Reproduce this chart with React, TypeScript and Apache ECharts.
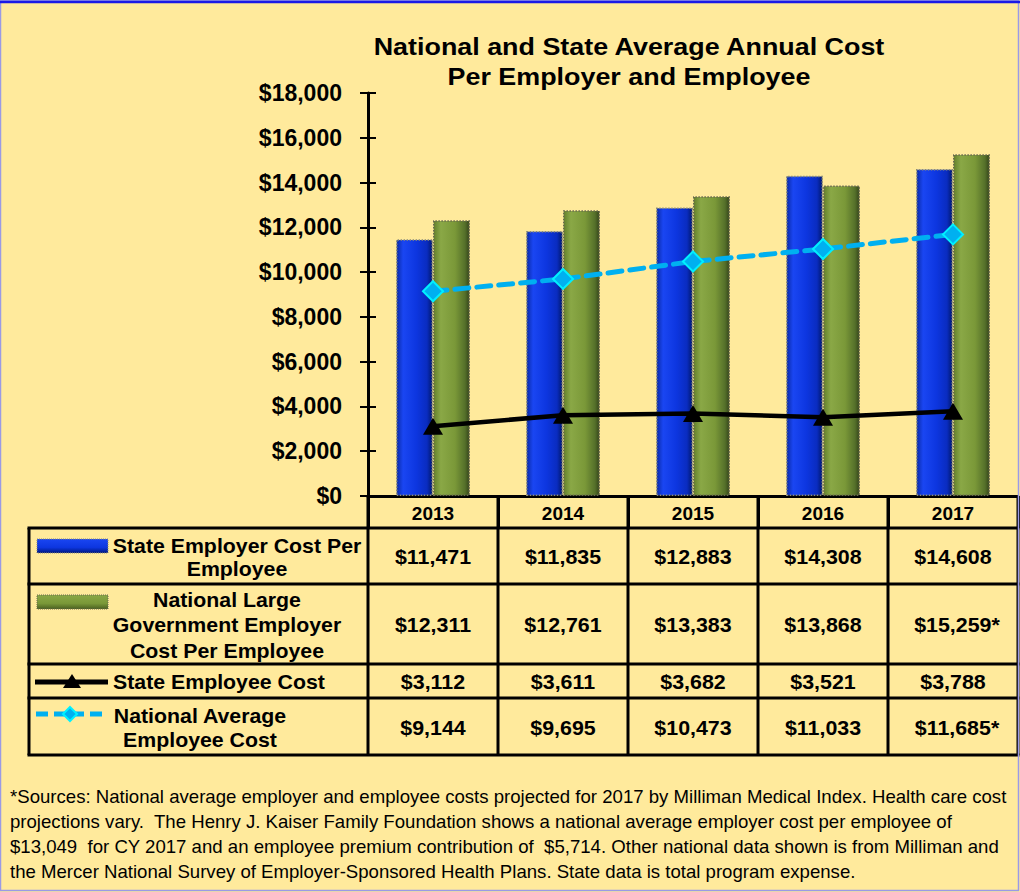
import { useEffect, useRef } from "react";
import * as echarts from "echarts";

const years = ["2013", "2014", "2015", "2016", "2017"];
const stateEmployer = [11471, 11835, 12883, 14308, 14608];
const nationalGov = [12311, 12761, 13383, 13868, 15259];
const stateEmployee = [3112, 3611, 3682, 3521, 3788];
const nationalEmployee = [9144, 9695, 10473, 11033, 11685];
const starred = [false, false, false, false, true];
const seriesNames = [
  "State Employer Cost Per Employee",
  "National Large Government Employer Cost Per Employee",
  "State Employee Cost",
  "National Average Employee Cost",
];
const rowLabels = [
  "State Employer Cost Per\nEmployee",
  "National Large\nGovernment Employer\nCost Per Employee",
  "State Employee Cost",
  "National Average\nEmployee Cost",
];
const titleText = "National and State Average Annual Cost\nPer Employer and Employee";
const footnoteLines = [
  "*Sources: National average employer and employee costs projected for 2017 by Milliman Medical Index. Health care cost",
  "projections vary.  The Henry J. Kaiser Family Foundation shows a national average employer cost per employee of",
  "$13,049  for CY 2017 and an employee premium contribution of  $5,714. Other national data shown is from Milliman and",
  "the Mercer National Survey of Employer-Sponsored Health Plans. State data is total program expense.",
];

const FONT = "'Liberation Sans', Arial, sans-serif";
const BG = "#FFEA9C";
const money = (v: number) => "$" + v.toLocaleString("en-US");

export default function App() {
  const ref = useRef<HTMLDivElement>(null);
  useEffect(() => {
    const chart = echarts.init(ref.current!, null, { renderer: "svg" });
    const blueGrad = new echarts.graphic.LinearGradient(0, 0, 1, 0, [
      { offset: 0, color: "#0a2aa8" },
      { offset: 0.18, color: "#1a46f2" },
      { offset: 0.55, color: "#0d36e0" },
      { offset: 0.85, color: "#0a2cc0" },
      { offset: 1, color: "#001870" },
    ]);
    const greenGrad = new echarts.graphic.LinearGradient(0, 0, 1, 0, [
      { offset: 0, color: "#64802c" },
      { offset: 0.2, color: "#8aa846" },
      { offset: 0.6, color: "#7a9838" },
      { offset: 0.88, color: "#55702a" },
      { offset: 1, color: "#36461a" },
    ]);
    const option: any = {
      animation: false,
      backgroundColor: BG,
      grid: { left: 368, right: 2, top: 93, bottom: 396, containLabel: false },
      xAxis: {
        type: "category",
        data: years,
        boundaryGap: true,
        axisLine: { lineStyle: { color: "#000", width: 3 } },
        axisTick: { show: true, length: 32, lineStyle: { color: "#000", width: 3 } },
        axisLabel: { margin: 8, fontFamily: FONT, fontSize: 19, fontWeight: "bold", color: "#000" },
      },
      yAxis: [
        {
          type: "value",
          min: 0,
          max: 18000,
          interval: 2000,
          axisLine: { show: true, lineStyle: { color: "#000", width: 3 } },
          axisTick: { show: true, length: 8, lineStyle: { color: "#000", width: 2 } },
          splitLine: { show: false },
          axisLabel: {
            margin: 26,
            fontFamily: FONT,
            fontSize: 23,
            fontWeight: "bold",
            color: "#000",
            formatter: (v: number) => money(v),
          },
        },
        {
          type: "value",
          min: 0,
          max: 18000,
          interval: 2000,
          position: "left",
          axisLine: { show: false },
          axisTick: { show: true, inside: true, length: 8, lineStyle: { color: "#000", width: 2 } },
          axisLabel: { show: false },
          splitLine: { show: false },
        },
      ],
      series: [
        {
          name: seriesNames[0],
          type: "bar",
          data: stateEmployer,
          barWidth: 37,
          barGap: "0%",
          itemStyle: { color: blueGrad, borderColor: "#8c8c78", borderWidth: 1.5, borderType: "dotted" },
          z: 2,
        },
        {
          name: seriesNames[1],
          type: "bar",
          data: nationalGov,
          barWidth: 37,
          barGap: "0%",
          itemStyle: { color: greenGrad, borderColor: "#6a6a50", borderWidth: 1.5, borderType: "dotted" },
          z: 2,
        },
        {
          name: seriesNames[2],
          type: "line",
          data: stateEmployee,
          symbol: "triangle",
          symbolSize: [20, 17],
          showSymbol: true,
          lineStyle: { color: "#000", width: 4.5 },
          itemStyle: { color: "#000" },
          z: 4,
        },
        {
          name: seriesNames[3],
          type: "line",
          data: nationalEmployee,
          symbol: "diamond",
          symbolSize: 20,
          lineStyle: { color: "#00B0F0", width: 5, type: [14, 8], cap: "round" },
          itemStyle: { color: "#00B0F0", borderColor: "#00F0FF", borderWidth: 2 },
          z: 5,
        },
      ],
    };
    chart.setOption(option);

    const cx = years.map((y) => chart.convertToPixel({ xAxisIndex: 0 }, y) as number);
    const colW = cx[1] - cx[0];
    const leftX = 29;
    const axisX = cx[0] - colW / 2;
    const rightX = cx[cx.length - 1] + colW / 2;
    const rowY = [528, 584, 664, 698, 755];
    const allRows = [stateEmployer, nationalGov, stateEmployee, nationalEmployee];
    const rowStar = [false, true, false, true];
    const g: any[] = [];
    // title
    g.push({
      type: "text",
      x: 629,
      y: 62,
      scaleX: 1.12,
      style: {
        text: titleText,
        fontFamily: FONT,
        fontSize: 24,
        fontWeight: "bold",
        fill: "#000",
        textAlign: "center",
        textVerticalAlign: "middle",
        lineHeight: 30,
      },
      z: 11,
    });
    const ln = (x1: number, y1: number, x2: number, y2: number, w = 3) => ({
      type: "line",
      shape: { x1, y1, x2, y2 },
      style: { stroke: "#000", lineWidth: w },
      z: 10,
    });
    rowY.forEach((y) => g.push(ln(leftX - 1.5, y, rightX + 1.5, y)));
    g.push(ln(leftX, rowY[0], leftX, rowY[4]));
    g.push(ln(axisX, 496, axisX, rowY[4]));
    for (let i = 0; i < years.length; i++) {
      const bx = cx[i] + colW / 2;
      g.push(ln(bx, 496, bx, rowY[4]));
    }
    // values
    allRows.forEach((row, r) => {
      const yc = (rowY[r] + rowY[r + 1]) / 2 + 1;
      row.forEach((v, i) => {
        const txt = money(v) + (rowStar[r] && starred[i] ? "*" : "");
        g.push({
          type: "text",
          x: cx[i] + (rowStar[r] && starred[i] ? 4 : 0),
          y: yc,
          scaleX: 1.07,
          style: {
            text: txt,
            fontFamily: FONT,
            fontSize: 20,
            fontWeight: "bold",
            fill: "#000",
            textAlign: "center",
            textVerticalAlign: "middle",
          },
          z: 11,
        });
      });
    });
    // row labels
    const labelPos = [
      { x: 237, align: "center", lh: 23 },
      { x: 227, align: "center", lh: 25.5 },
      { x: 113, align: "left", lh: 24 },
      { x: 200, align: "center", lh: 24 },
    ];
    rowLabels.forEach((t, r) => {
      const yc = (rowY[r] + rowY[r + 1]) / 2 + 1;
      g.push({
        type: "text",
        x: labelPos[r].x,
        y: yc,
        scaleX: 1.065,
        style: {
          text: t,
          fontFamily: FONT,
          fontSize: 20,
          fontWeight: "bold",
          fill: "#000",
          textAlign: labelPos[r].align,
          textVerticalAlign: "middle",
          lineHeight: labelPos[r].lh,
        },
        z: 11,
      });
    });
    // legend keys
    const keyBlue = new echarts.graphic.LinearGradient(0, 0, 0, 1, [
      { offset: 0, color: "#1a46f2" },
      { offset: 0.6, color: "#0d36e0" },
      { offset: 1, color: "#001880" },
    ]);
    const keyGreen = new echarts.graphic.LinearGradient(0, 0, 0, 1, [
      { offset: 0, color: "#8aa846" },
      { offset: 0.6, color: "#7a9838" },
      { offset: 1, color: "#4a6020" },
    ]);
    g.push({
      type: "rect",
      shape: { x: 37, y: 539, width: 71, height: 14 },
      style: { fill: keyBlue, stroke: "#8c8c78", lineWidth: 1, lineDash: [1, 1] },
      z: 11,
    });
    g.push({
      type: "rect",
      shape: { x: 37, y: 595, width: 71, height: 14 },
      style: { fill: keyGreen, stroke: "#6a6a50", lineWidth: 1, lineDash: [1, 1] },
      z: 11,
    });
    g.push({
      type: "line",
      shape: { x1: 35, y1: 682, x2: 108, y2: 682 },
      style: { stroke: "#000", lineWidth: 5 },
      z: 11,
    });
    g.push({
      type: "polygon",
      shape: { points: [[63, 688], [81, 688], [72, 674]] },
      style: { fill: "#000" },
      z: 12,
    });
    g.push({
      type: "line",
      shape: { x1: 36, y1: 714, x2: 108, y2: 714 },
      style: { stroke: "#00B0F0", lineWidth: 5, lineDash: [12, 6] },
      z: 11,
    });
    g.push({
      type: "polygon",
      shape: { points: [[70, 707], [77, 714], [70, 721], [63, 714]] },
      style: { fill: "#00B0F0", stroke: "#00F0FF", lineWidth: 2 },
      z: 12,
    });
    // footnote
    footnoteLines.forEach((t, i) => {
      g.push({
        type: "text",
        x: 10,
        y: 796 + i * 25,
        style: {
          text: t,
          fontFamily: FONT,
          fontSize: 18.6,
          fill: "#000",
          textAlign: "left",
          textVerticalAlign: "middle",
        },
        z: 11,
      });
    });
    // outer border
    g.push({
      type: "rect",
      shape: { x: 0.5, y: 0.5, width: 1018, height: 890 },
      style: { fill: "none", stroke: "#9a9ae6", lineWidth: 1.5 },
      z: 20,
    });
    g.push({
      type: "line",
      shape: { x1: 0, y1: 2, x2: 1020, y2: 2 },
      style: { stroke: "#1a1ae6", lineWidth: 2.5 },
      z: 21,
    });
    chart.setOption({ graphic: g });
    return () => chart.dispose();
  }, []);
  return (
    <div
      ref={ref}
      style={{ position: "absolute", left: 0, top: 0, width: 1020, height: 892 }}
    />
  );
}
